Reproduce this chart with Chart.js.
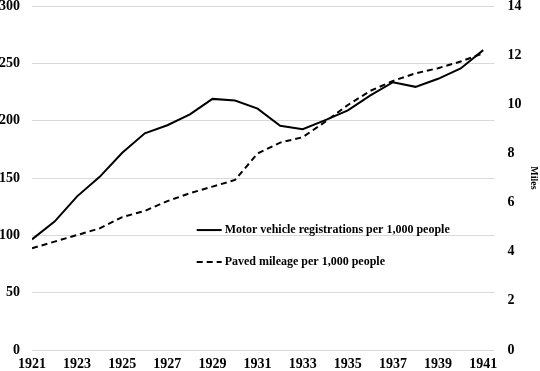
<!DOCTYPE html>
<html>
<head>
<meta charset="utf-8">
<script src="https://cdn.jsdelivr.net/npm/chart.js@4.4.1/dist/chart.umd.min.js"></script>
<style>
  html, body { margin: 0; padding: 0; background: #fff; }
  #wrap { position: relative; width: 540px; height: 371px; }
</style>
</head>
<body>
<div id="wrap"><canvas id="chart" width="540" height="371"></canvas></div>
<script>
// Years on the x axis
const years = [1921, 1922, 1923, 1924, 1925, 1926, 1927, 1928, 1929, 1930, 1931,
               1932, 1933, 1934, 1935, 1936, 1937, 1938, 1939, 1940, 1941];

// Motor vehicle registrations per 1,000 people (left axis)
const registrations = [96.5, 112, 134, 151, 172, 189, 196, 205.5, 219, 217.5, 210.5,
                       195.5, 192.5, 200.5, 209, 222, 233.5, 229.5, 236.5, 245.5, 261.5];

// Paved mileage per 1,000 people (right axis, miles)
const pavedMiles = [4.14, 4.41, 4.68, 4.95, 5.41, 5.66, 6.06, 6.38, 6.65, 6.92, 8.0,
                    8.44, 8.66, 9.29, 9.97, 10.55, 10.95, 11.26, 11.47, 11.74, 12.08];

const xTicks = [1921, 1923, 1925, 1927, 1929, 1931, 1933, 1935, 1937, 1939, 1941];
const legendLabels = ['Motor vehicle registrations per 1,000 people', 'Paved mileage per 1,000 people'];

const tickFont = { family: '"Liberation Serif", "Times New Roman", serif', size: 14, weight: 'bold' };

// draws the two legend rows inside the plot area
const innerLegend = {
    id: 'innerLegend',
    afterDatasetsDraw(chart) {
        const ctx = chart.ctx;
        const x0 = chart.scales.x.getPixelForValue(1928.3);
        const rows = [chart.scales.y.getPixelForValue(104.6), chart.scales.y.getPixelForValue(76.7)];
        ctx.save();
        ctx.font = 'bold 12px "Liberation Serif", "Times New Roman", serif';
        ctx.fillStyle = '#000';
        ctx.textBaseline = 'middle';
        legendLabels.forEach((label, i) => {
            const ds = chart.data.datasets[i];
            ctx.strokeStyle = '#000';
            ctx.lineWidth = 2;
            ctx.setLineDash(ds.borderDash || []);
            ctx.beginPath();
            ctx.moveTo(x0, rows[i]);
            ctx.lineTo(x0 + 25, rows[i]);
            ctx.stroke();
            ctx.setLineDash([]);
            ctx.fillText(label, x0 + 28, rows[i]);
        });
        ctx.restore();
    }
};

// keep the plot close to the top edge like the original
const noVertPad = axis => { axis.paddingTop = 0; axis.paddingBottom = 0; };

new Chart(document.getElementById('chart'), {
    type: 'line',
    data: {
        datasets: [
            {
                label: legendLabels[0],
                data: years.map((yr, i) => ({ x: yr, y: registrations[i] })),
                borderColor: '#000',
                borderWidth: 2,
                pointRadius: 0,
                tension: 0,
                yAxisID: 'y'
            },
            {
                label: legendLabels[1],
                data: years.map((yr, i) => ({ x: yr, y: pavedMiles[i] })),
                borderColor: '#000',
                borderWidth: 2,
                borderDash: [6, 4],
                pointRadius: 0,
                tension: 0,
                yAxisID: 'y1'
            }
        ]
    },
    options: {
        responsive: false,
        animation: false,
        layout: { padding: { top: 6, bottom: 0, left: 0, right: 0 } },
        plugins: { legend: { display: false }, tooltip: { enabled: false } },
        scales: {
            x: {
                type: 'linear',
                min: 1921,
                max: 1941.5,
                afterBuildTicks: axis => { axis.ticks = xTicks.map(v => ({ value: v })); },
                afterFit: axis => { axis.height = 21; axis.paddingLeft = 0; axis.paddingRight = 0; },
                ticks: { font: tickFont, color: '#000', padding: 6, maxRotation: 0, autoSkip: false,
                         callback: v => String(v) },
                grid: { display: false, drawTicks: false },
                border: { display: false }
            },
            y: {
                position: 'left',
                min: 0,
                max: 300,
                afterFit: axis => { axis.width = 32; noVertPad(axis); },
                ticks: { stepSize: 50, font: tickFont, color: '#000', padding: 12 },
                grid: { color: '#d9d9d9', lineWidth: 1, drawTicks: false },
                border: { display: false }
            },
            y1: {
                position: 'right',
                min: 0,
                max: 14,
                afterFit: axis => { axis.width = 45.5; noVertPad(axis); },
                ticks: { stepSize: 2, font: tickFont, color: '#000', padding: 13 },
                grid: { display: false, drawTicks: false },
                border: { display: false },
                title: { display: true, text: 'Miles', color: '#000', padding: 0,
                         font: { family: '"Liberation Serif", "Times New Roman", serif', size: 10, weight: 'bold' } }
            }
        }
    },
    plugins: [innerLegend]
});
</script>
</body>
</html>
